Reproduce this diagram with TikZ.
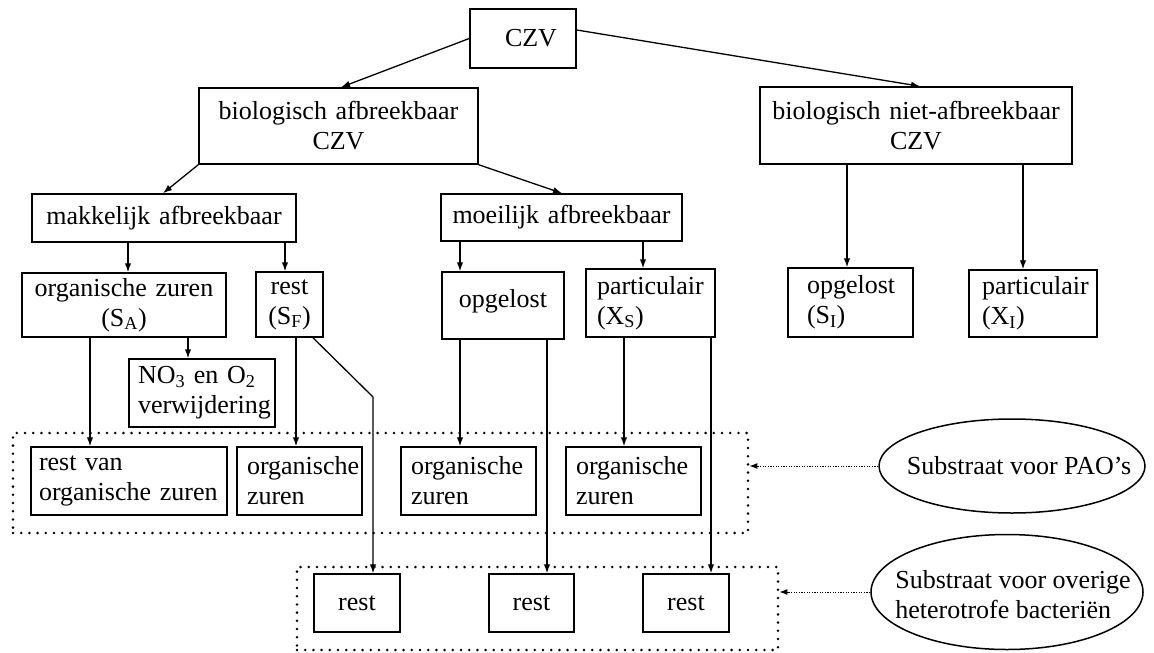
\documentclass[tikz,border=0pt]{standalone}
\usepackage{fontspec}
\setmainfont{Liberation Serif}
\usetikzlibrary{arrows.meta,shapes.geometric}
\hyphenpenalty=10000
\exhyphenpenalty=10000
\hfuzz=30pt
\begin{document}
\begin{tikzpicture}[x=1pt,y=-1pt,
  every node/.style={font=\fontsize{26}{30}\selectfont},
  box/.style={draw, rectangle, line width=1.5pt, inner sep=0pt, align=center},
  sz/.style 2 args={text width=#1, minimum height=#2},
  lpad/.style={align=left, execute at begin node={\leftskip=#1\relax}},
  arr/.style={-{Latex[length=9pt,width=6.5pt]}, line width=1.3pt},
  dotframe/.style={draw, rectangle, line width=2.8pt, dash pattern=on 0pt off 8.2pt,
    line cap=round, inner sep=0pt},
  ptr/.style={-{Latex[length=8pt,width=6pt]}, line width=1pt, dash pattern=on 1.2pt off 1.4pt},
  bubble/.style={draw, ellipse, line width=1.5pt, inner sep=0pt}
]
\useasboundingbox (0,0) rectangle (1154,653);

% top levels
\node[box, sz={106pt}{59pt}] (czv) at (523,38.5) {\hspace*{16pt}CZV};
\node[box, sz={279pt}{76pt}] (bioA) at (338.5,126) {biologisch afbreekbaar\\CZV};
\node[box, sz={312pt}{77pt}] (bioN) at (916,125.5) {biologisch niet-afbreekbaar\\CZV};
\node[box, sz={264pt}{48pt}] (makk) at (164,218) {makkelijk afbreekbaar};
\node[box, sz={241pt}{47pt}] (moei) at (561.5,217.5) {moeilijk afbreekbaar};

% fractions
\node[box, sz={204pt}{64pt}] (SA) at (124,305) {organische zuren\\(S\textsubscript{A})};
\node[box, sz={67pt}{65pt}] (SF) at (289.5,304.5) {rest\\(S\textsubscript{F})};
\node[box, sz={122pt}{67pt}, text depth=14pt] (opg) at (503,305.5) {opgelost};
\node[box, sz={129pt}{68pt}, lpad=11pt] (XS) at (650.5,303) {particulair\\(X\textsubscript{S})};
\node[box, sz={125pt}{69pt}, lpad=19pt] (SI) at (850.5,302.5) {opgelost\\(S\textsubscript{I})};
\node[box, sz={128pt}{67pt}, lpad=13pt] (XI) at (1033,303.5) {particulair\\(X\textsubscript{I})};
\node[box, sz={146pt}{68pt}, lpad=9pt] (NO3) at (202,393) {NO\textsubscript{3} en O\textsubscript{2}\\verwijdering};

% substrate for PAOs
\node[dotframe, minimum width=735pt, minimum height=100pt] (grp1) at (380.5,483) {};
\node[box, sz={196pt}{68pt}, lpad=8pt] (restvan) at (129,481) {rest van\\organische zuren};
\node[box, sz={125pt}{68pt}, lpad=10pt] (org2) at (299.5,481) {organische\\zuren};
\node[box, sz={135pt}{68pt}, lpad=10pt] (org3) at (468.5,481) {organische\\zuren};
\node[box, sz={135pt}{68pt}, lpad=10pt] (org4) at (633.5,481) {organische\\zuren};

% substrate for other heterotrophs
\node[dotframe, minimum width=481pt, minimum height=83pt] (grp2) at (537.5,608.5) {};
\node[box, sz={86pt}{58pt}] (rest1) at (357,603) {rest};
\node[box, sz={85pt}{58pt}] (rest2) at (531.5,603) {rest};
\node[box, sz={86pt}{58pt}] (rest3) at (686,603) {rest};

% legend bubbles
\node[bubble, minimum width=266pt, minimum height=94pt] (ell1) at (1012,466) {};
\node (ell1txt) at (1019,466) {Substraat voor PAO’s};
\node[bubble, minimum width=272pt, minimum height=115pt] (ell2) at (1007,592) {};
\node[align=left] (ell2txt) at (1013,595) {Substraat voor overige\\heterotrofe bacteriën};

% connectors
\draw[arr] (czv.west) -- (bioA.north -| 341,0);
\draw[arr] ([yshift=8.5pt]czv.east) -- (bioN.north -| 920,0);
\draw[arr] (bioA.south west) -- (makk.north -| 163,0);
\draw[arr] (bioA.south east) -- (moei.north -| 562,0);
\draw[arr] (makk.south -| 128,0) -- (SA.north -| 128,0);
\draw[arr] (makk.south -| 285,0) -- (SF.north -| 285,0);
\draw[arr] (moei.south -| 460,0) -- (opg.north -| 460,0);
\draw[arr] (moei.south -| 643,0) -- (XS.north -| 643,0);
\draw[arr] (bioN.south -| 847,0) -- (SI.north -| 847,0);
\draw[arr] (bioN.south -| 1023,0) -- (XI.north -| 1023,0);
\draw[arr] (SA.south -| 188,0) -- (NO3.north -| 188,0);
\draw[arr] (SA.south -| 90,0) -- (restvan.north -| 90,0);
\draw[arr] (SF.south -| 296,0) -- (org2.north -| 296,0);
\coordinate (knee) at (373,397);
\draw[arr] (SF.south -| 313,0) -- (knee) -- (rest1.north -| knee);
\draw[arr] (opg.south -| 460,0) -- (org3.north -| 460,0);
\draw[arr] (opg.south -| 547,0) -- (rest2.north -| 547,0);
\draw[arr] (XS.south -| 624,0) -- (org4.north -| 624,0);
\draw[arr] (XS.south -| 711,0) -- (rest3.north -| 711,0);
\draw[ptr] (ell1.west) -- (ell1.west -| grp1.east);
\draw[ptr] (ell2.west) -- (ell2.west -| grp2.east);
\end{tikzpicture}
\end{document}
